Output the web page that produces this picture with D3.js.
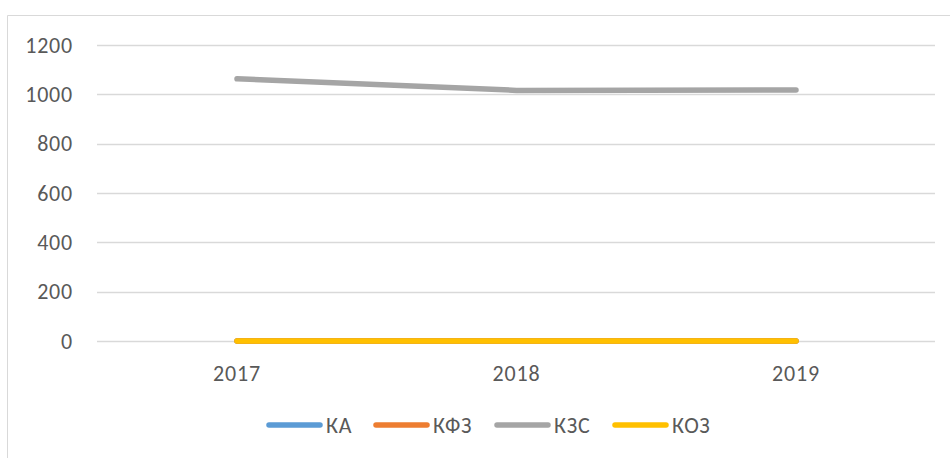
<!DOCTYPE html>
<html>
<head>
<meta charset="utf-8">
<script src="https://cdn.jsdelivr.net/npm/d3@7"></script>
<style>
  body { margin: 0; background: #fff; }
  text { font-family: Carlito, "Liberation Sans Narrow", "Open Sans", sans-serif; fill: #595959; letter-spacing: 0.8px; }
</style>
</head>
<body>
<svg id="chart"></svg>
<script>
// данные
const years = ["2017", "2018", "2019"];
const seriesNames = ["КА", "КФЗ", "КЗС", "КОЗ"];
const seriesColors = ["#5B9BD5", "#ED7D31", "#A5A5A5", "#FFC000"];
const valKA = [0.5, 0.5, 0.5];
const valKFZ = [0.4, 0.4, 0.4];
const valKZS = [1063, 1016, 1018];
const valKOZ = [0.3, 0.3, 0.3];
const yTicks = [0, 200, 400, 600, 800, 1000, 1200];

const series = [valKA, valKFZ, valKZS, valKOZ].map((v, i) => ({
  name: seriesNames[i], color: seriesColors[i], values: v
}));

const W = 950, H = 458;
const fs = "22px";
const svg = d3.select("#chart").attr("width", W).attr("height", H);

// рамка (видна только сверху и слева)
svg.append("line").attr("x1", 7.5).attr("x2", W).attr("y1", 15.5).attr("y2", 15.5)
  .attr("stroke", "#d9d9d9");
svg.append("line").attr("x1", 7.5).attr("x2", 7.5).attr("y1", 15.5).attr("y2", H)
  .attr("stroke", "#d9d9d9");

const x = d3.scalePoint().domain(years).range([237, 796]);
const y = d3.scaleLinear().domain([0, 1200]).range([341, 45]);

// сетка
svg.append("g").selectAll("line").data(yTicks).join("line")
  .attr("x1", 97).attr("x2", 935)
  .attr("y1", d => Math.round(y(d)) + 0.5).attr("y2", d => Math.round(y(d)) + 0.5)
  .attr("stroke", "#d9d9d9").attr("stroke-width", 1.3);

// подписи оси Y
svg.append("g").selectAll("text").data(yTicks).join("text")
  .attr("x", 73).attr("y", d => y(d))
  .attr("dy", "0.35em").attr("text-anchor", "end")
  .style("font-size", fs).text(d => d);

// подписи оси X
svg.append("g").selectAll("text").data(years).join("text")
  .attr("x", d => x(d)).attr("y", 373)
  .attr("dy", "0.35em").attr("text-anchor", "middle")
  .style("font-size", fs).text(d => d);

// линии
const line = d3.line().x((d, i) => x(years[i])).y(d => y(d));
svg.append("g").selectAll("path").data(series).join("path")
  .attr("d", d => line(d.values))
  .attr("fill", "none").attr("stroke", d => d.color)
  .attr("stroke-width", 5.5).attr("stroke-linecap", "round").attr("stroke-linejoin", "round");

// легенда
const legendX = [267, 374, 495, 613];
const lg = svg.append("g").selectAll("g").data(series).join("g")
  .attr("transform", (d, i) => `translate(${legendX[i]},425)`);
lg.append("line").attr("x1", 2).attr("x2", 53)
  .attr("stroke", d => d.color).attr("stroke-width", 5.5).attr("stroke-linecap", "round");
lg.append("text").attr("x", 59).attr("dy", "0.35em")
  .style("font-size", fs).text(d => d.name);
</script>
</body>
</html>
